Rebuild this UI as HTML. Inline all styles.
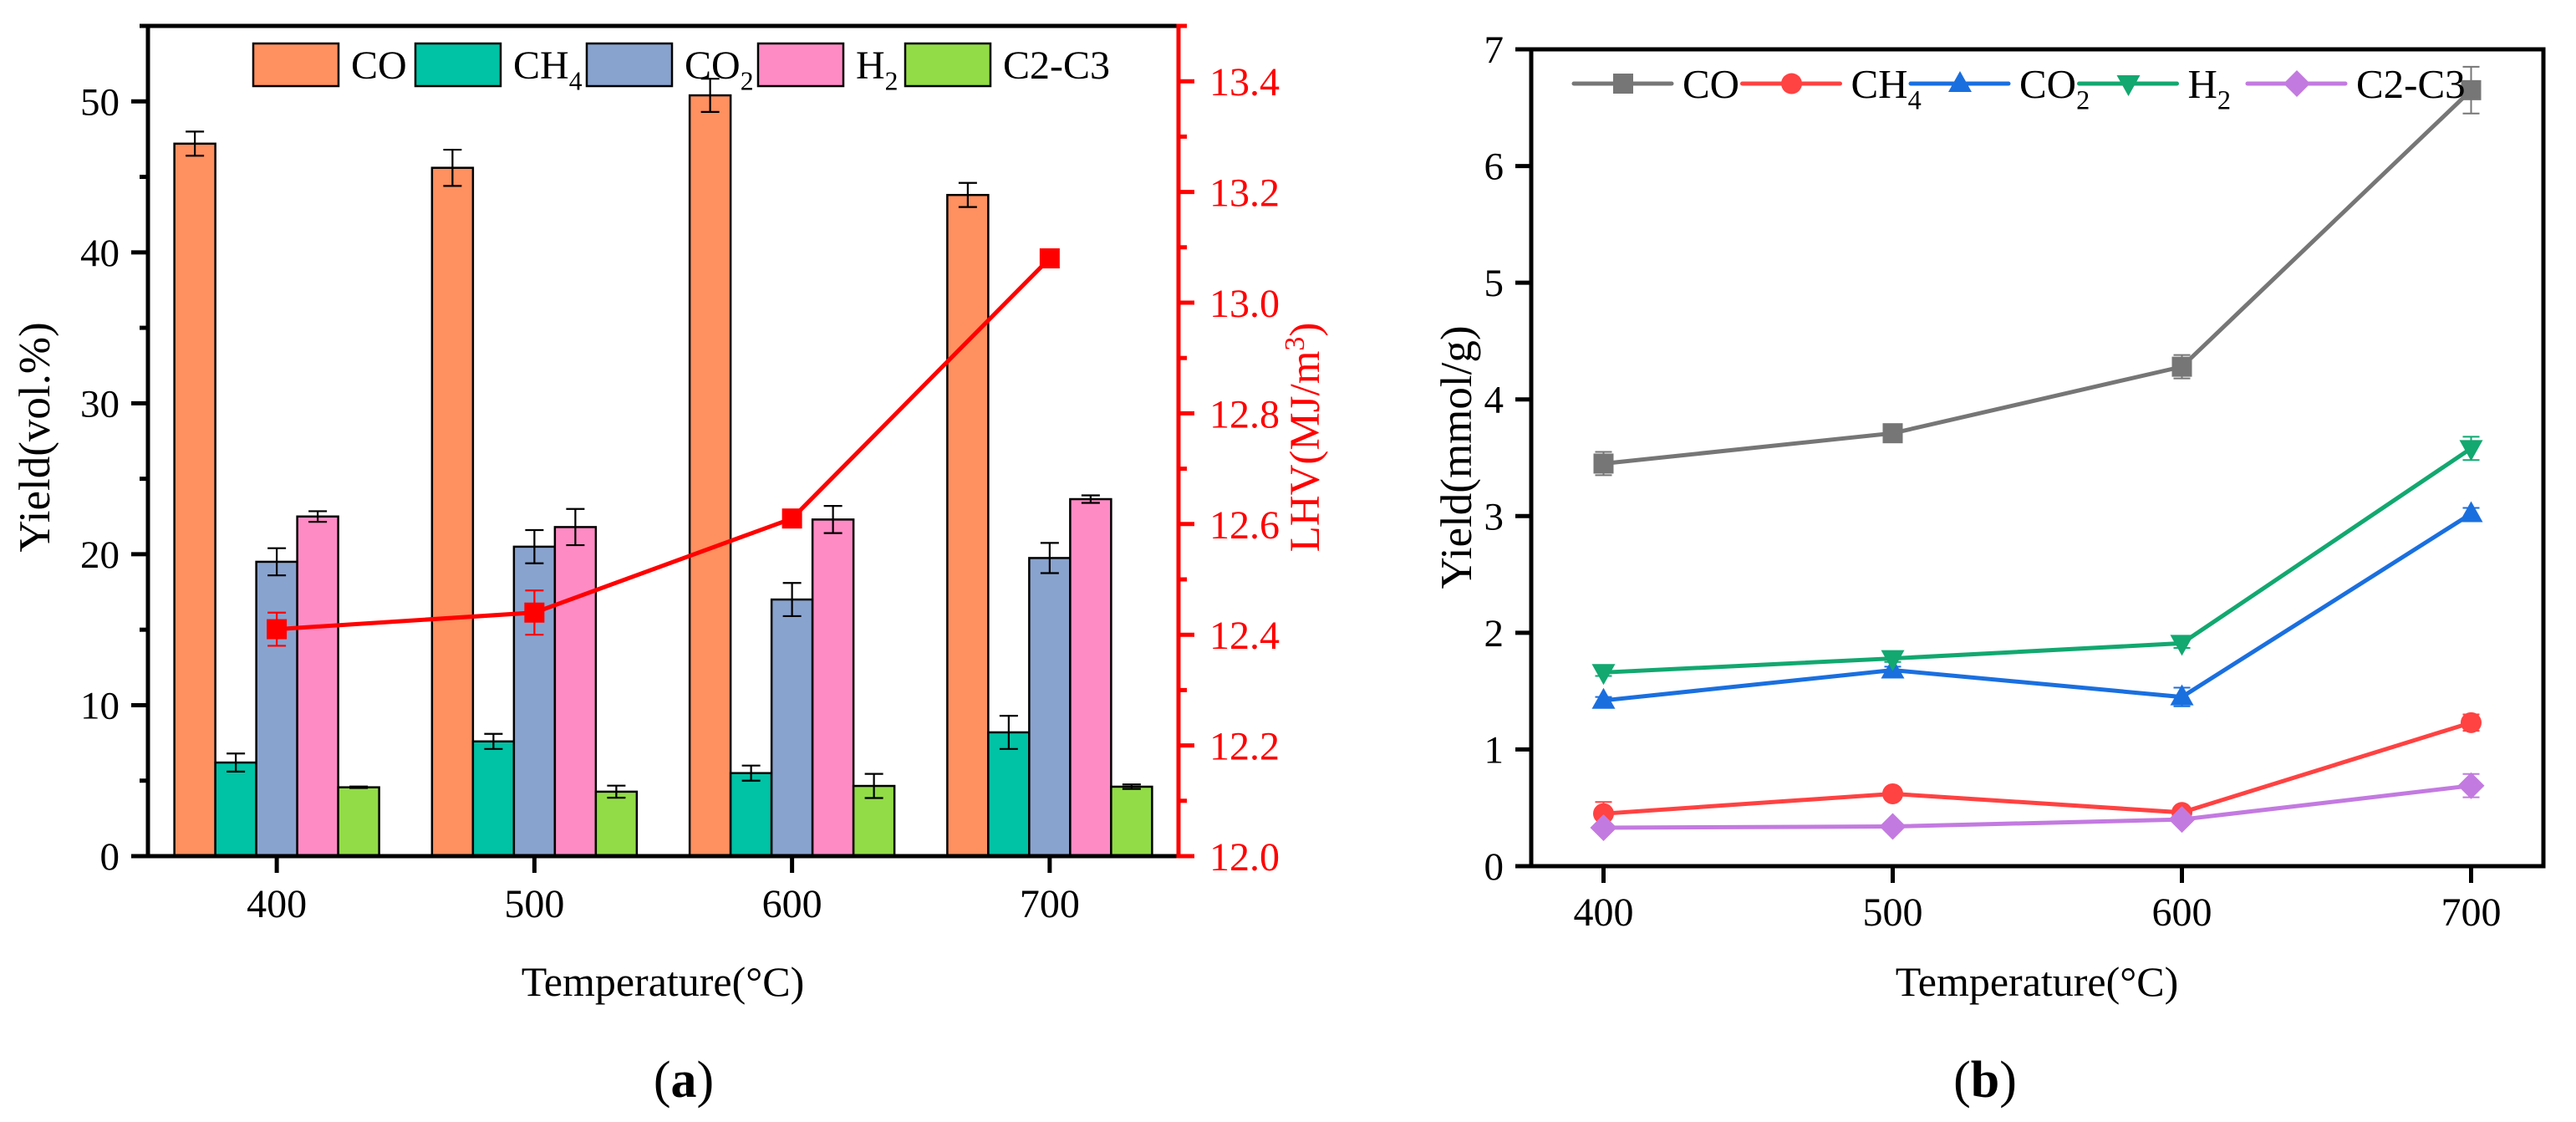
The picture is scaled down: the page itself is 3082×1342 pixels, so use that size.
<!DOCTYPE html>
<html><head><meta charset="utf-8"><style>
html,body{margin:0;padding:0;background:#fff;}
svg{display:block;font-family:"Liberation Serif",serif;}
</style></head><body>
<svg id="fig" width="3082" height="1342" viewBox="0 0 3082 1342" xmlns="http://www.w3.org/2000/svg">
<g id="pa"></g>
<g id="pb"></g>
</svg>
<script>
// ---------- Panel (a) data ----------
const catsA = [400, 500, 600, 700];
const seriesNamesA = ["CO", "CH4", "CO2", "H2", "C2-C3"];
const coA = [47.2, 45.6, 50.4, 43.8];
const coAErr = [0.8, 1.2, 1.1, 0.8];
const ch4A = [6.2, 7.6, 5.5, 8.2];
const ch4AErr = [0.6, 0.5, 0.5, 1.1];
const co2A = [19.5, 20.5, 17.0, 19.75];
const co2AErr = [0.9, 1.1, 1.1, 1.0];
const h2A = [22.5, 21.8, 22.3, 23.65];
const h2AErr = [0.35, 1.2, 0.9, 0.25];
const c23A = [4.56, 4.27, 4.65, 4.6];
const c23AErr = [0.05, 0.4, 0.8, 0.15];
const lhv = [12.41, 12.44, 12.61, 13.08];
const lhvErr = [0.03, 0.04, 0, 0];
const yTicksA = [0, 10, 20, 30, 40, 50];
const y2Ticks = ["12.0", "12.2", "12.4", "12.6", "12.8", "13.0", "13.2", "13.4"];

// ---------- Panel (b) data ----------
const catsB = [400, 500, 600, 700];
const coB = [3.45, 3.71, 4.28, 6.65];
const coBErr = [0.1, 0.03, 0.1, 0.2];
const ch4B = [0.45, 0.62, 0.46, 1.23];
const ch4BErr = [0.1, 0.03, 0.03, 0.07];
const co2B = [1.42, 1.68, 1.45, 3.02];
const co2BErr = [0.03, 0.03, 0.08, 0.05];
const h2B = [1.66, 1.78, 1.91, 3.58];
const h2BErr = [0.03, 0.03, 0.04, 0.1];
const c23B = [0.33, 0.34, 0.40, 0.69];
const c23BErr = [0.02, 0.02, 0.02, 0.1];
const yTicksB = [0, 1, 2, 3, 4, 5, 6, 7];

const NS = "http://www.w3.org/2000/svg";
function mk(parent, tag, attrs, text) {
  const e = document.createElementNS(NS, tag);
  for (const k in attrs) e.setAttribute(k, attrs[k]);
  if (text !== undefined) e.textContent = text;
  parent.appendChild(e);
  return e;
}
function chemText(parent, x, y, name, size, fill, anchor) {
  const t = mk(parent, "text", {x: x, y: y, "font-size": size, fill: fill || "#000", "text-anchor": anchor || "start"});
  const m = name.match(/^([A-Z]+)(\d)$/);
  if (m && name !== "C2-C3") {
    const a = document.createElementNS(NS, "tspan"); a.textContent = m[1]; t.appendChild(a);
    const b = document.createElementNS(NS, "tspan"); b.textContent = m[2];
    b.setAttribute("font-size", size * 0.66); b.setAttribute("dy", size * 0.28); t.appendChild(b);
  } else t.textContent = name;
  return t;
}

// ================= Panel A =================
const pa = document.getElementById("pa");
const A = {l: 177, r: 1410, t: 31, b: 1024, xmin: 350, xmax: 750, ymax: 55, y2min: 12.0, y2max: 13.5};
const xA = v => A.l + (v - A.xmin) / (A.xmax - A.xmin) * (A.r - A.l);
const yA = v => A.b - v / A.ymax * (A.b - A.t);
const y2A = v => A.b - (v - A.y2min) / (A.y2max - A.y2min) * (A.b - A.t);
const barColors = ["#FF9060", "#00C2A4", "#89A3CF", "#FF8BC5", "#92DC47"];
const valsA = [coA, ch4A, co2A, h2A, c23A];
const errsA = [coAErr, ch4AErr, co2AErr, h2AErr, c23AErr];
const bw = 49;

valsA.forEach((vals, s) => {
  const g = mk(pa, "g", {});
  
  
  vals.forEach((v, i) => {
    const cx = xA(catsA[i]) + (s - 2) * bw;
    const r = mk(g, "rect", {x: cx - bw / 2, y: yA(v), width: bw, height: A.b - yA(v), fill: barColors[s], stroke: "#000", "stroke-width": 2.5});
    
    
    const e = errsA[s][i];
    const eb = mk(g, "path", {d: `M${cx-11},${yA(v+e)}H${cx+11}M${cx},${yA(v+e)}V${yA(v-e)}M${cx-11},${yA(v-e)}H${cx+11}`, stroke: "#000", "stroke-width": 2.2, fill: "none"});
    
    
  });
});

const lhvG = mk(pa, "g", {});


const lp = lhv.map((v, i) => `${xA(catsA[i])},${y2A(v)}`).join(" ");
const lhvLine = mk(lhvG, "polyline", {points: lp, fill: "none", stroke: "#FF0000", "stroke-width": 5});


lhv.forEach((v, i) => {
  const cx = xA(catsA[i]), cy = y2A(v), e = lhvErr[i];
  if (e > 0) {
    const eb = mk(lhvG, "path", {d: `M${cx-11},${y2A(v+e)}H${cx+11}M${cx},${y2A(v+e)}V${y2A(v-e)}M${cx-11},${y2A(v-e)}H${cx+11}`, stroke: "#FF0000", "stroke-width": 2.2, fill: "none"});
    
    
  }
  const m = mk(lhvG, "rect", {x: cx - 12, y: cy - 12, width: 24, height: 24, fill: "#FF0000"});
  
  
});

const axA = mk(pa, "g", {});


mk(axA, "line", {x1: 167, y1: A.t, x2: A.r, y2: A.t, stroke: "#000", "stroke-width": 5});
mk(axA, "line", {x1: A.l, y1: A.t - 2.5, x2: A.l, y2: A.b, stroke: "#000", "stroke-width": 5});
mk(axA, "line", {x1: 157, y1: A.b, x2: A.r, y2: A.b, stroke: "#000", "stroke-width": 5});
mk(axA, "line", {x1: A.r, y1: A.t - 2.5, x2: A.r, y2: A.b + 2.5, stroke: "#FF0000", "stroke-width": 5});
mk(axA, "line", {x1: A.r, y1: A.t, x2: A.r + 10, y2: A.t, stroke: "#FF0000", "stroke-width": 5});
mk(axA, "line", {x1: A.r, y1: A.b, x2: A.r + 19, y2: A.b, stroke: "#FF0000", "stroke-width": 5});
for (let v = 0; v <= 55; v += 5) {
  const major = v % 10 === 0;
  mk(axA, "line", {x1: A.l - (major ? 20 : 10), y1: yA(v), x2: A.l, y2: yA(v), stroke: "#000", "stroke-width": 5});
}
yTicksA.forEach(v => {
  const t = mk(axA, "text", {x: 143, y: yA(v) + 16, "font-size": 47, "text-anchor": "end"}, String(v));
  
  
});
for (let k = 0; k <= 15; k++) {
  const v = 12 + k * 0.1;
  const major = k % 2 === 0;
  mk(axA, "line", {x1: A.r, y1: y2A(v), x2: A.r + (major ? 19 : 10), y2: y2A(v), stroke: "#FF0000", "stroke-width": 5});
}
y2Ticks.forEach(s => {
  const t = mk(axA, "text", {x: 1447, y: y2A(parseFloat(s)) + 17, "font-size": 48, fill: "#FF0000"}, s);
  
  
});
catsA.forEach(c => {
  mk(axA, "line", {x1: xA(c), y1: A.b, x2: xA(c), y2: A.b + 20, stroke: "#000", "stroke-width": 5});
  const t = mk(axA, "text", {x: xA(c), y: 1097, "font-size": 48, "text-anchor": "middle"}, String(c));
  
  
});
let tt = mk(pa, "text", {x: 793, y: 1191, "font-size": 50, "text-anchor": "middle"}, "Temperature(°C)");
 
tt = mk(pa, "text", {x: 0, y: 0, "font-size": 53, "text-anchor": "middle", transform: "translate(59,523) rotate(-90)"}, "Yield(vol.%)");
 
tt = mk(pa, "text", {x: 0, y: 0, "font-size": 51, "text-anchor": "middle", fill: "#FF0000", transform: "translate(1578,523) rotate(-90)"});
 
{ const a = document.createElementNS(NS, "tspan"); a.textContent = "LHV(MJ/m"; tt.appendChild(a);
  const b = document.createElementNS(NS, "tspan"); b.textContent = "3"; b.setAttribute("font-size", 34); b.setAttribute("dy", -18); tt.appendChild(b);
  const c = document.createElementNS(NS, "tspan"); c.textContent = ")"; c.setAttribute("dy", 18); tt.appendChild(c); }
const legA = mk(pa, "g", {});


const legBoxX = [303, 497, 702, 907, 1083];
seriesNamesA.forEach((n, s) => {
  const g = mk(legA, "g", {});
  
  
  mk(g, "rect", {x: legBoxX[s], y: 52, width: 102, height: 51, fill: barColors[s], stroke: "#000", "stroke-width": 2.5});
  chemText(g, legBoxX[s] + 117, 94, n, 48);
});
tt = mk(pa, "text", {x: 818, y: 1312, "font-size": 62, "text-anchor": "middle"});
 
{ const a = document.createElementNS(NS,"tspan"); a.textContent="("; tt.appendChild(a);
  const b = document.createElementNS(NS,"tspan"); b.textContent="a"; b.setAttribute("font-weight","bold"); tt.appendChild(b);
  const c = document.createElementNS(NS,"tspan"); c.textContent=")"; tt.appendChild(c); }

// ================= Panel B =================
const pb = document.getElementById("pb");
const B = {l: 1832, r: 3043, t: 59, b: 1036, xmin: 375, xmax: 725, ymax: 7};
const xB = v => B.l + (v - B.xmin) / (B.xmax - B.xmin) * (B.r - B.l);
const yB = v => B.b - v / B.ymax * (B.b - B.t);
const lineNames = ["CO", "CH4", "CO2", "H2", "C2-C3"];
const lineColors = ["#767676", "#FF4242", "#1A6FDF", "#12A870", "#C37AE0"];
const markers = ["square", "circle", "triangle", "triangle-down", "diamond"];
const valsB = [coB, ch4B, co2B, h2B, c23B];
const errsB = [coBErr, ch4BErr, co2BErr, h2BErr, c23BErr];
function marker(g, type, cx, cy, color) {
  let e;
  if (type === "square") e = mk(g, "rect", {x: cx - 12, y: cy - 12, width: 24, height: 24, fill: color});
  else if (type === "circle") e = mk(g, "circle", {cx: cx, cy: cy, r: 12.5, fill: color});
  else if (type === "triangle") e = mk(g, "polygon", {points: `${cx},${cy-15} ${cx+14},${cy+10} ${cx-14},${cy+10}`, fill: color});
  else if (type === "triangle-down") e = mk(g, "polygon", {points: `${cx},${cy+15} ${cx+14},${cy-10} ${cx-14},${cy-10}`, fill: color});
  else e = mk(g, "polygon", {points: `${cx},${cy-16} ${cx+16},${cy} ${cx},${cy+16} ${cx-16},${cy}`, fill: color});
  return e;
}
valsB.forEach((vals, s) => {
  const g = mk(pb, "g", {});
  
  
  const pl = mk(g, "polyline", {points: vals.map((v, i) => `${xB(catsB[i])},${yB(v)}`).join(" "), fill: "none", stroke: lineColors[s], "stroke-width": 5});
  
  
  vals.forEach((v, i) => {
    const cx = xB(catsB[i]), e = errsB[s][i];
    const eb = mk(g, "path", {d: `M${cx-10},${yB(v+e)}H${cx+10}M${cx},${yB(v+e)}V${yB(v-e)}M${cx-10},${yB(v-e)}H${cx+10}`, stroke: lineColors[s], "stroke-width": 2, fill: "none"});
    
    
    const m = marker(g, markers[s], cx, yB(v), lineColors[s]);
    
    
  });
});
const axB = mk(pb, "g", {});


mk(axB, "line", {x1: 1813, y1: B.t, x2: B.r + 2.5, y2: B.t, stroke: "#000", "stroke-width": 5});
mk(axB, "line", {x1: 1813, y1: B.b, x2: B.r + 2.5, y2: B.b, stroke: "#000", "stroke-width": 5});
mk(axB, "line", {x1: B.l, y1: B.t, x2: B.l, y2: B.b, stroke: "#000", "stroke-width": 5});
mk(axB, "line", {x1: B.r, y1: B.t, x2: B.r, y2: B.b, stroke: "#000", "stroke-width": 5});
yTicksB.forEach(v => {
  mk(axB, "line", {x1: 1813, y1: yB(v), x2: B.l, y2: yB(v), stroke: "#000", "stroke-width": 5});
  const t = mk(axB, "text", {x: 1799, y: yB(v) + 16, "font-size": 47, "text-anchor": "end"}, String(v));
  
  
});
catsB.forEach(c => {
  mk(axB, "line", {x1: xB(c), y1: B.b, x2: xB(c), y2: B.b + 20, stroke: "#000", "stroke-width": 5});
  const t = mk(axB, "text", {x: xB(c), y: 1107, "font-size": 48, "text-anchor": "middle"}, String(c));
  
  
});
tt = mk(pb, "text", {x: 2437, y: 1191, "font-size": 50, "text-anchor": "middle"}, "Temperature(°C)");
 
tt = mk(pb, "text", {x: 0, y: 0, "font-size": 53, "text-anchor": "middle", transform: "translate(1760,547) rotate(-90)"}, "Yield(mmol/g)");
 
const legB = mk(pb, "g", {});


lineNames.forEach((n, s) => {
  const x0 = 1883 + s * 201.5;
  const g = mk(legB, "g", {});
  
  
  mk(g, "line", {x1: x0, y1: 100, x2: x0 + 117, y2: 100, stroke: lineColors[s], "stroke-width": 5, "stroke-linecap": "round"});
  marker(g, markers[s], x0 + 59, 100, lineColors[s]);
  chemText(g, x0 + 130, 117, n, 49);
});
tt = mk(pb, "text", {x: 2375, y: 1312, "font-size": 62, "text-anchor": "middle"});
 
{ const a = document.createElementNS(NS,"tspan"); a.textContent="("; tt.appendChild(a);
  const b = document.createElementNS(NS,"tspan"); b.textContent="b"; b.setAttribute("font-weight","bold"); tt.appendChild(b);
  const c = document.createElementNS(NS,"tspan"); c.textContent=")"; tt.appendChild(c); }
</script>
</body></html>
